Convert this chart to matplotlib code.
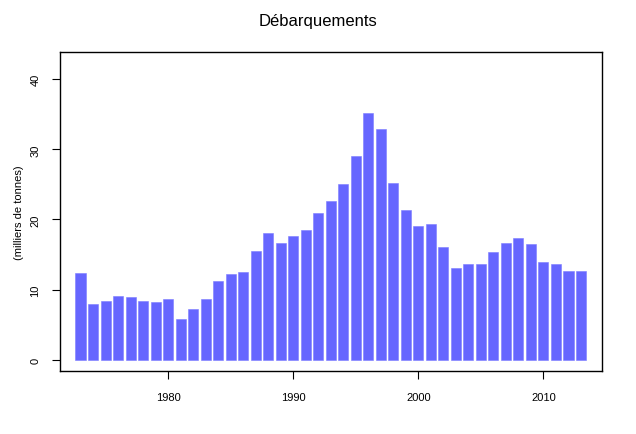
import numpy as np
import matplotlib
matplotlib.use('Agg')
import matplotlib.pyplot as plt

plt.rcParams['font.family'] = ['Liberation Sans', 'DejaVu Sans']

# Landings by year (thousands of tonnes)
years = list(range(1973, 2014))
landings = [12.3, 7.9, 8.4, 9.1, 8.9, 8.3, 8.2, 8.6, 5.75, 7.2,
            8.7, 11.2, 12.2, 12.45, 15.5, 18.1, 16.6, 17.7, 18.5, 20.9,
            22.7, 25.1, 29.0, 35.2, 32.9, 25.2, 21.3, 19.0, 19.4, 16.05,
            13.1, 13.6, 13.6, 15.3, 16.6, 17.4, 16.5, 13.9, 13.7, 12.6,
            12.6]
xticks = [1980, 1990, 2000, 2010]
yticks = [0, 10, 20, 30, 40]

fig = plt.figure(figsize=(6.36, 4.35), dpi=100)
ax = fig.add_axes([0.0943, 0.1437, 0.8515, 0.7345])

ax.bar(years, landings, width=0.8, color='#6666FF', edgecolor='#7C7CFF', linewidth=0.4)

ax.set_xlim(1971.36, 2014.64)
ax.set_ylim(-1.69, 43.9)
ax.set_xticks(xticks)
ax.set_yticks(yticks)
ax.tick_params(axis='both', direction='out', length=6, width=0.8, labelsize=8, colors='black')
ax.tick_params(axis='x', pad=9)
ax.tick_params(axis='y', pad=8)
for lab in ax.get_yticklabels():
    lab.set_rotation(90)
    lab.set_va('center')
for sp in ax.spines.values():
    sp.set_linewidth(1.0)

ax.set_ylabel('(milliers de tonnes)', fontsize=8, labelpad=5)
fig.text(0.5, 0.951, 'Débarquements', ha='center', va='center', fontsize=12)

fig.savefig('out.png', dpi=100)
